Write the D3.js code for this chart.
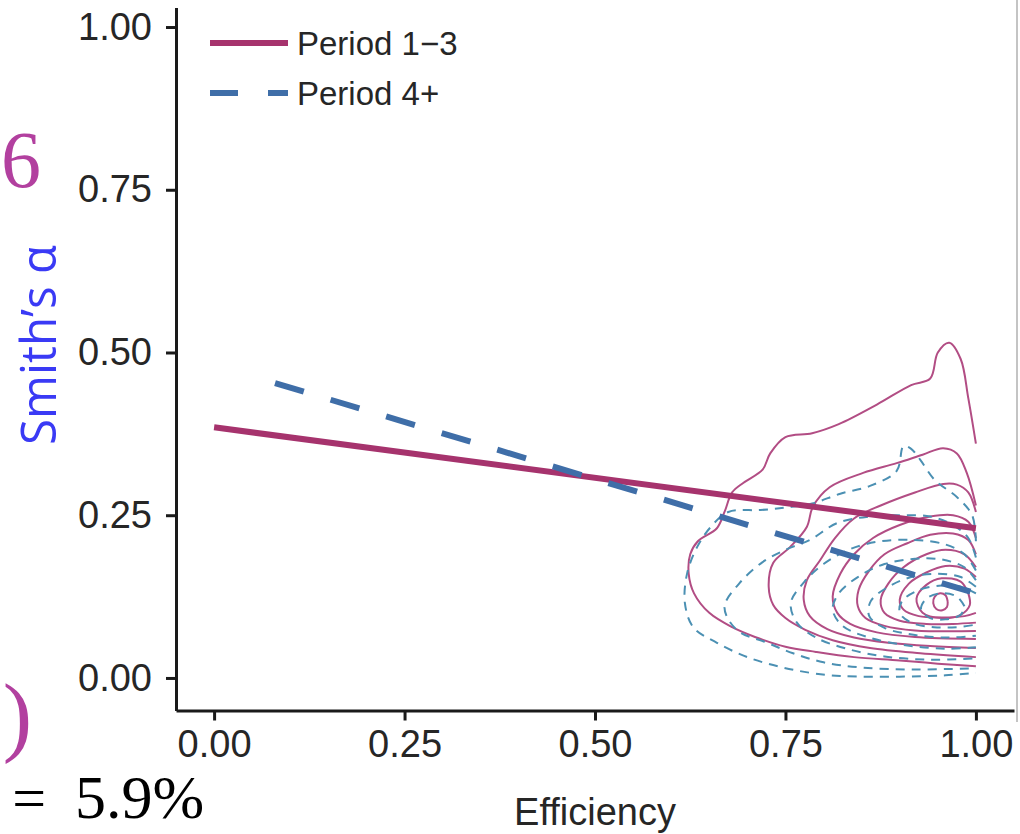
<!DOCTYPE html>
<html>
<head>
<meta charset="utf-8">
<script src="https://cdn.jsdelivr.net/npm/d3@7"></script>
<style>
  body { margin: 0; background: #fff; }
  svg { display: block; }
</style>
</head>
<body>
<div id="chart"></div>
<script>
// tick values
const xTicks = [0, 0.25, 0.5, 0.75, 1];
const yTicks = [0, 0.25, 0.5, 0.75, 1];
const seriesNames = ["Period 1\u22123", "Period 4+"];

// fitted lines [efficiency, alpha]
const fitEarly = [[0.0, 0.385], [1.0, 0.23]];
const fitLate = [[0.08, 0.453], [1.0, 0.13]];

// density contours, Period 1-3 (solid)
const contoursEarly = [
  [[1.0,0.36],[0.99,0.43],[0.98,0.49],[0.965,0.515],[0.95,0.50],[0.94,0.46],[0.915,0.45],[0.87,0.42],[0.82,0.39],[0.785,0.376],[0.75,0.37],[0.73,0.345],[0.72,0.32],[0.695,0.30],[0.68,0.285],[0.67,0.255],[0.66,0.23],[0.635,0.21],[0.625,0.19],[0.623,0.16],[0.63,0.13],[0.65,0.10],[0.68,0.078],[0.71,0.063],[0.75,0.048],[0.79,0.04],[0.84,0.032],[0.90,0.027],[0.95,0.022],[1.0,0.018]],
  [[1.0,0.265],[0.988,0.315],[0.975,0.345],[0.957,0.353],[0.93,0.343],[0.896,0.33],[0.852,0.315],[0.808,0.293],[0.786,0.263],[0.778,0.232],[0.756,0.201],[0.734,0.177],[0.728,0.14],[0.734,0.112],[0.75,0.092],[0.776,0.074],[0.812,0.058],[0.861,0.046],[0.927,0.038],[1.0,0.032]],
  [[1.0,0.255],[0.99,0.285],[0.975,0.297],[0.957,0.298],[0.92,0.285],[0.875,0.265],[0.84,0.245],[0.815,0.215],[0.795,0.18],[0.778,0.15],[0.774,0.12],[0.782,0.095],[0.805,0.075],[0.84,0.062],[0.885,0.054],[0.94,0.049],[1.0,0.046]],
  [[1.0,0.215],[0.99,0.24],[0.97,0.25],[0.94,0.248],[0.90,0.235],[0.865,0.215],[0.84,0.19],[0.822,0.16],[0.812,0.125],[0.818,0.1],[0.835,0.083],[0.87,0.07],[0.92,0.063],[1.0,0.06]],
  [[1.0,0.19],[0.99,0.212],[0.97,0.222],[0.94,0.22],[0.91,0.207],[0.88,0.19],[0.86,0.165],[0.846,0.135],[0.845,0.11],[0.855,0.092],[0.88,0.08],[0.92,0.073],[1.0,0.072]],
  [[1.0,0.17],[0.985,0.19],[0.96,0.197],[0.935,0.19],[0.905,0.17],[0.885,0.145],[0.875,0.12],[0.88,0.1],[0.9,0.088],[0.935,0.083],[0.97,0.083],[1.0,0.085]],
  [[1.0,0.155],[0.985,0.168],[0.96,0.172],[0.935,0.162],[0.912,0.145],[0.9,0.12],[0.905,0.105],[0.925,0.095],[0.955,0.093],[0.985,0.095],[1.0,0.1]],
  [[0.99,0.13],[0.98,0.148],[0.955,0.153],[0.935,0.143],[0.922,0.122],[0.93,0.1],[0.955,0.092],[0.98,0.097],[0.992,0.112],[0.99,0.13]],
  [[0.963,0.117],[0.96,0.127],[0.953,0.13],[0.946,0.125],[0.944,0.115],[0.948,0.106],[0.956,0.104],[0.962,0.109],[0.963,0.117]]
];

// density contours, Period 4+ (dashed)
const contoursLate = [
  [[1.0,0.21],[0.995,0.25],[0.975,0.278],[0.946,0.304],[0.927,0.335],[0.915,0.352],[0.905,0.356],[0.896,0.318],[0.861,0.295],[0.822,0.283],[0.785,0.268],[0.752,0.262],[0.717,0.258],[0.675,0.255],[0.652,0.232],[0.634,0.201],[0.621,0.161],[0.618,0.115],[0.629,0.078],[0.66,0.054],[0.70,0.032],[0.743,0.017],[0.782,0.008],[0.822,0.003],[0.9,0.002],[0.96,0.004],[1.0,0.008]],
  [[1.0,0.185],[0.99,0.215],[0.97,0.235],[0.94,0.248],[0.9,0.25],[0.86,0.248],[0.818,0.238],[0.782,0.212],[0.752,0.198],[0.72,0.178],[0.69,0.146],[0.67,0.109],[0.686,0.074],[0.726,0.054],[0.76,0.038],[0.8,0.024],[0.85,0.016],[0.92,0.013],[1.0,0.015]],
  [[1.0,0.165],[0.985,0.19],[0.96,0.205],[0.92,0.212],[0.875,0.21],[0.835,0.198],[0.8,0.175],[0.775,0.148],[0.757,0.115],[0.765,0.085],[0.79,0.062],[0.83,0.045],[0.88,0.033],[0.94,0.028],[1.0,0.03]],
  [[1.0,0.15],[0.985,0.17],[0.955,0.182],[0.92,0.183],[0.88,0.175],[0.845,0.155],[0.82,0.13],[0.812,0.105],[0.825,0.08],[0.86,0.062],[0.91,0.05],[0.96,0.045],[1.0,0.047]],
  [[1.0,0.14],[0.98,0.155],[0.95,0.16],[0.915,0.155],[0.885,0.14],[0.862,0.118],[0.86,0.095],[0.88,0.077],[0.92,0.066],[0.965,0.062],[1.0,0.065]],
  [[1.0,0.13],[0.98,0.14],[0.955,0.142],[0.925,0.135],[0.903,0.118],[0.9,0.1],[0.915,0.085],[0.945,0.078],[0.975,0.078],[1.0,0.082]],
  [[0.985,0.11],[0.975,0.125],[0.955,0.13],[0.935,0.122],[0.928,0.105],[0.94,0.092],[0.96,0.09],[0.98,0.097],[0.985,0.11]]
];

const W = 1020, H = 834;
const pink = "#a6336d", blue = "#3f6ea8";
const pinkThin = "#b24d84", blueThin = "#4b90b3";

const svg = d3.select("#chart").append("svg")
  .attr("width", W).attr("height", H)
  .style("font-family", "'Liberation Sans', Arial, sans-serif");

const x = d3.scaleLinear().domain([-0.05, 1.05]).range([176, 1014]);
const y = d3.scaleLinear().domain([-0.05, 1.03]).range([710.5, 7.5]);

const line = d3.line().x(d => x(d[0])).y(d => y(d[1]));
const smooth = d3.line().x(d => x(d[0])).y(d => y(d[1])).curve(d3.curveCatmullRom.alpha(0.5));

// slide leftovers around the chart
svg.append("line")
  .attr("x1", 1017).attr("x2", 1017).attr("y1", 0).attr("y2", 722)
  .attr("stroke", "#c4c4c4").attr("stroke-width", 2);

const serif = "'Liberation Serif', serif";
const slideText = [
  { t: "6", x: 1, y: 187, size: 80, anchor: "start", color: "#b2409f" },
  { t: ")", x: 32, y: 745, size: 88, anchor: "end", color: "#b2409f" },
  { t: "=", x: 46, y: 818, size: 60, anchor: "end", color: "#000" },
  { t: "5.9%", x: 75, y: 818, size: 62, anchor: "start", color: "#000" }
];
slideText.forEach(s => {
  svg.append("text")
    .attr("x", s.x).attr("y", s.y)
    .attr("text-anchor", s.anchor)
    .style("font-family", serif)
    .style("font-size", s.size + "px")
    .attr("fill", s.color)
    .text(s.t);
});

// contours
svg.append("g").selectAll("path")
  .data(contoursEarly)
  .enter().append("path")
  .attr("d", smooth)
  .attr("fill", "none")
  .attr("stroke", pinkThin)
  .attr("stroke-width", 2);

svg.append("g").selectAll("path")
  .data(contoursLate)
  .enter().append("path")
  .attr("d", smooth)
  .attr("fill", "none")
  .attr("stroke", blueThin)
  .attr("stroke-width", 2)
  .attr("stroke-dasharray", "9,7");

// fitted lines
svg.append("path")
  .datum(fitEarly)
  .attr("d", line)
  .attr("fill", "none")
  .attr("stroke", pink)
  .attr("stroke-width", 6);

svg.append("path")
  .datum(fitLate)
  .attr("d", line)
  .attr("fill", "none")
  .attr("stroke", blue)
  .attr("stroke-width", 6)
  .attr("stroke-dasharray", "30,28");

// axes
const yAxis = svg.append("g")
  .attr("transform", `translate(${x(-0.05)},0)`)
  .call(d3.axisLeft(y).tickValues(yTicks).tickFormat(d3.format(".2f")).tickSize(10).tickSizeOuter(0).tickPadding(14));
const xAxis = svg.append("g")
  .attr("transform", `translate(0,${y(-0.05)})`)
  .call(d3.axisBottom(x).tickValues(xTicks).tickFormat(d3.format(".2f")).tickSize(10).tickSizeOuter(0).tickPadding(10));

[yAxis, xAxis].forEach(a => {
  a.select(".domain").attr("stroke", "#1a1a1a").attr("stroke-width", 3);
  a.selectAll(".tick line").attr("stroke", "#1a1a1a").attr("stroke-width", 3);
  a.selectAll(".tick text")
    .attr("fill", "#262626")
    .style("font-family", "'Liberation Sans', Arial, sans-serif")
    .style("font-size", "38px");
});

svg.append("text")
  .attr("x", x(0.5)).attr("y", 825)
  .attr("text-anchor", "middle")
  .attr("fill", "#262626")
  .style("font-size", "38px")
  .text("Efficiency");

svg.append("text")
  .attr("transform", "translate(56,345) rotate(-90)")
  .attr("text-anchor", "middle")
  .attr("fill", "#3a3af5")
  .style("font-family", "'Open Sans', 'Noto Sans', sans-serif")
  .style("font-size", "50px")
  .attr("textLength", 200)
  .attr("lengthAdjust", "spacingAndGlyphs")
  .text("Smith\u2019s \u03b1");

// legend
const legend = svg.append("g");
const legendRows = [
  { name: seriesNames[0], color: pink, dash: null, y: 43 },
  { name: seriesNames[1], color: blue, dash: "28,30", y: 93 }
];
legendRows.forEach(r => {
  legend.append("line")
    .attr("x1", 210).attr("x2", 288)
    .attr("y1", r.y).attr("y2", r.y)
    .attr("stroke", r.color)
    .attr("stroke-width", 6)
    .attr("stroke-dasharray", r.dash);
  legend.append("text")
    .attr("x", 297).attr("y", r.y + 12)
    .attr("fill", "#262626")
    .style("font-size", "33px")
    .text(r.name);
});
</script>
</body>
</html>
